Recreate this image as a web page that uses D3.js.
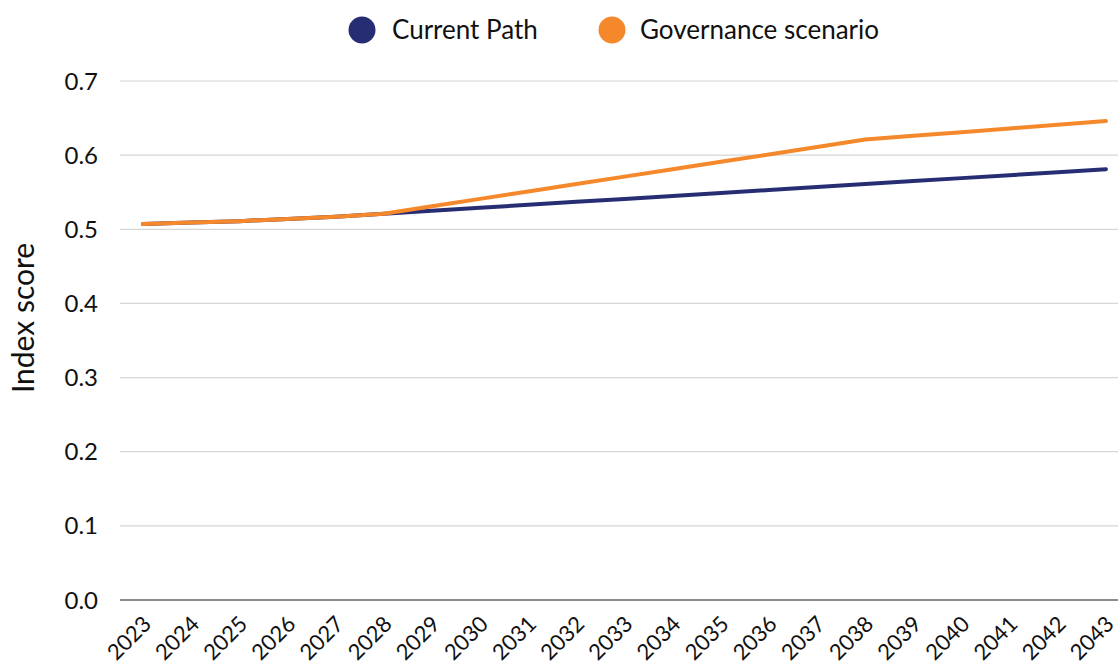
<!DOCTYPE html>
<html><head><meta charset="utf-8">
<script src="https://cdn.jsdelivr.net/npm/d3@7"></script>
<style>body{margin:0;background:#fff;}svg{display:block;font-family:Lato,"Open Sans",sans-serif;}</style>
</head><body>
<svg id="c" width="1118" height="671"></svg>
<script>
const years = ["2023","2024","2025","2026","2027","2028","2029","2030","2031","2032","2033","2034","2035","2036","2037","2038","2039","2040","2041","2042","2043"];
const currentPath = [0.507,0.509,0.511,0.514,0.517,0.521,0.525,0.529,0.533,0.537,0.541,0.545,0.549,0.553,0.557,0.561,0.565,0.569,0.573,0.577,0.581];
const governance = [0.507,0.509,0.511,0.514,0.517,0.521,0.531,0.541,0.551,0.561,0.571,0.581,0.591,0.601,0.611,0.621,0.626,0.631,0.636,0.641,0.646];
const yTicks = [0,0.1,0.2,0.3,0.4,0.5,0.6,0.7];
const seriesNames = ["Current Path","Governance scenario"];
const colors = ["#272d73","#f5882a"];

const svg = d3.select("#c");
const x = d3.scalePoint().domain(years).range([119,1130]).padding(0.5);
const y = d3.scaleLinear().domain([0,0.7]).range([600,81]);

// grid
svg.append("g").selectAll("line").data(yTicks).join("line")
  .attr("x1",120).attr("x2",1118)
  .attr("y1",d=>y(d)).attr("y2",d=>y(d))
  .attr("stroke",d=>d===0?"#8c8c8c":"#d6d6d6").attr("stroke-width",d=>d===0?2:1.2);

// y labels
svg.append("g").selectAll("text").data(yTicks).join("text")
  .attr("x",98).attr("y",d=>y(d)).attr("dy","0.36em")
  .attr("text-anchor","end").attr("font-size",24).attr("fill","#111")
  .text(d=>d3.format(".1f")(d));

// y title
svg.append("text").attr("transform","translate(34,318) rotate(-90)")
  .attr("text-anchor","middle").attr("font-size",30).attr("fill","#111").text("Index score");

// x labels
svg.append("g").selectAll("text").data(years).join("text")
  .attr("transform",d=>`translate(${x(d)+4},620) rotate(-45)`)
  .attr("text-anchor","end").attr("dy","0.35em").attr("font-size",22).attr("fill","#111")
  .text(d=>d);

const line = d3.line().x((d,i)=>x(years[i])).y(d=>y(d));
[currentPath, governance].forEach((s,i)=>{
  svg.append("path").datum(s).attr("d",line).attr("fill","none")
    .attr("stroke",colors[i]).attr("stroke-width",4).attr("stroke-linecap","round").attr("stroke-linejoin","round");
});

// legend
const lg = [{cx:362,tx:392},{cx:612,tx:640}];
seriesNames.forEach((n,i)=>{
  svg.append("circle").attr("cx",lg[i].cx).attr("cy",30).attr("r",13.5).attr("fill",colors[i]);
  svg.append("text").attr("x",lg[i].tx).attr("y",30).attr("dy","0.35em").attr("font-size",26).attr("fill","#111").text(n);
});
</script>
</body></html>
